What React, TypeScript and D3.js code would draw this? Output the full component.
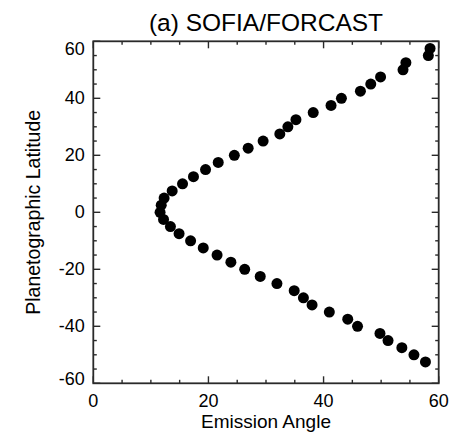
import React from "react";
import * as d3 from "d3";

const emissionAngleNorth = [11.6, 11.8, 12.3, 13.7, 15.5, 17.4, 19.5, 21.7, 24.5, 26.9, 29.5, 32.4, 33.8, 35.2, 38.2, 41.3, 43.1, 46.4, 48.2, 49.9, 53.8, 54.3, 58.2, 58.5];
const latitudeNorth = [0, 2.5, 5, 7.5, 10, 12.5, 15, 17.5, 20, 22.5, 25, 27.5, 30, 32.5, 35, 37.5, 40, 42.5, 45, 47.5, 50, 52.5, 55, 57.5];
const emissionAngleSouth = [12.2, 13.4, 14.9, 16.9, 19.1, 21.5, 23.9, 26.3, 29.0, 31.9, 34.9, 36.5, 38.0, 41.0, 44.2, 45.9, 49.8, 51.2, 53.6, 55.7, 57.7];
const latitudeSouth = [-2.5, -5, -7.5, -10, -12.5, -15, -17.5, -20, -22.5, -25, -27.5, -30, -32.5, -35, -37.5, -40, -42.5, -45, -47.5, -50, -52.5];

const xTicks = [0, 20, 40, 60];
const yTicks = [-60, -40, -20, 0, 20, 40, 60];
const titleText = "(a) SOFIA/FORCAST";
const xLabel = "Emission Angle";
const yLabel = "Planetographic Latitude";

export default function App() {
  const W = 462, H = 435;
  const L = 93.3, R = 438.7, T = 41.3, B = 383.3;
  const x = d3.scaleLinear().domain([0, 60]).range([L, R]);
  const y = d3.scaleLinear().domain([-60, 60]).range([B, T]);
  const minorX = d3.range(0, 60.01, 5);
  const minorY = d3.range(-60, 60.01, 5);
  const font = "'Liberation Sans', Arial, Helvetica, sans-serif";
  const axisColor = "#2a2a2a";
  const sw = 1.8;
  const pts = [
    ...emissionAngleNorth.map((e, i) => [e, latitudeNorth[i]]),
    ...emissionAngleSouth.map((e, i) => [e, latitudeSouth[i]]),
  ];
  const yLabelPos = (v: number) => {
    const p = y(v);
    if (v === 60) return p + 8;
    if (v === -60) return p - 4.5;
    return p;
  };
  return (
    <svg width={W} height={H} style={{ position: "absolute", left: 0, top: 0, background: "#fff" }} fontFamily={font}>
      <rect x={0} y={0} width={W} height={H} fill="#fff" />
      <text x={(L + R) / 2} y={31} textAnchor="middle" fontSize={24.5} fill="#000">{titleText}</text>
      {minorX.map((v) => {
        const major = v % 20 === 0;
        const len = major ? 7 : 3.5;
        return (
          <g key={"x" + v}>
            <line x1={x(v)} x2={x(v)} y1={B} y2={B - len} stroke={axisColor} strokeWidth={1.4} />
            <line x1={x(v)} x2={x(v)} y1={T} y2={T + len} stroke={axisColor} strokeWidth={1.4} />
          </g>
        );
      })}
      {minorY.map((v) => {
        const major = v % 20 === 0;
        const len = major ? 7 : 3.5;
        return (
          <g key={"y" + v}>
            <line x1={L} x2={L + len} y1={y(v)} y2={y(v)} stroke={axisColor} strokeWidth={1.4} />
            <line x1={R} x2={R - len} y1={y(v)} y2={y(v)} stroke={axisColor} strokeWidth={1.4} />
          </g>
        );
      })}
      <rect x={L} y={T} width={R - L} height={B - T} fill="none" stroke={axisColor} strokeWidth={sw} />
      {xTicks.map((v) => (
        <text key={"xl" + v} x={x(v)} y={406.5} textAnchor="middle" fontSize={18} fill="#000">{v}</text>
      ))}
      {yTicks.map((v) => (
        <text key={"yl" + v} x={L - 8.5} y={yLabelPos(v)} textAnchor="end" dominantBaseline="central" fontSize={18} fill="#000">{v}</text>
      ))}
      <text x={(L + R) / 2} y={428} textAnchor="middle" fontSize={19} fill="#000">{xLabel}</text>
      <text transform={`translate(40, ${(T + B) / 2}) rotate(-90)`} textAnchor="middle" fontSize={19.5} fill="#000">{yLabel}</text>
      {pts.map(([e, lat], i) => (
        <circle key={i} cx={x(e)} cy={y(lat)} r={5.5} fill="#000" />
      ))}
    </svg>
  );
}
